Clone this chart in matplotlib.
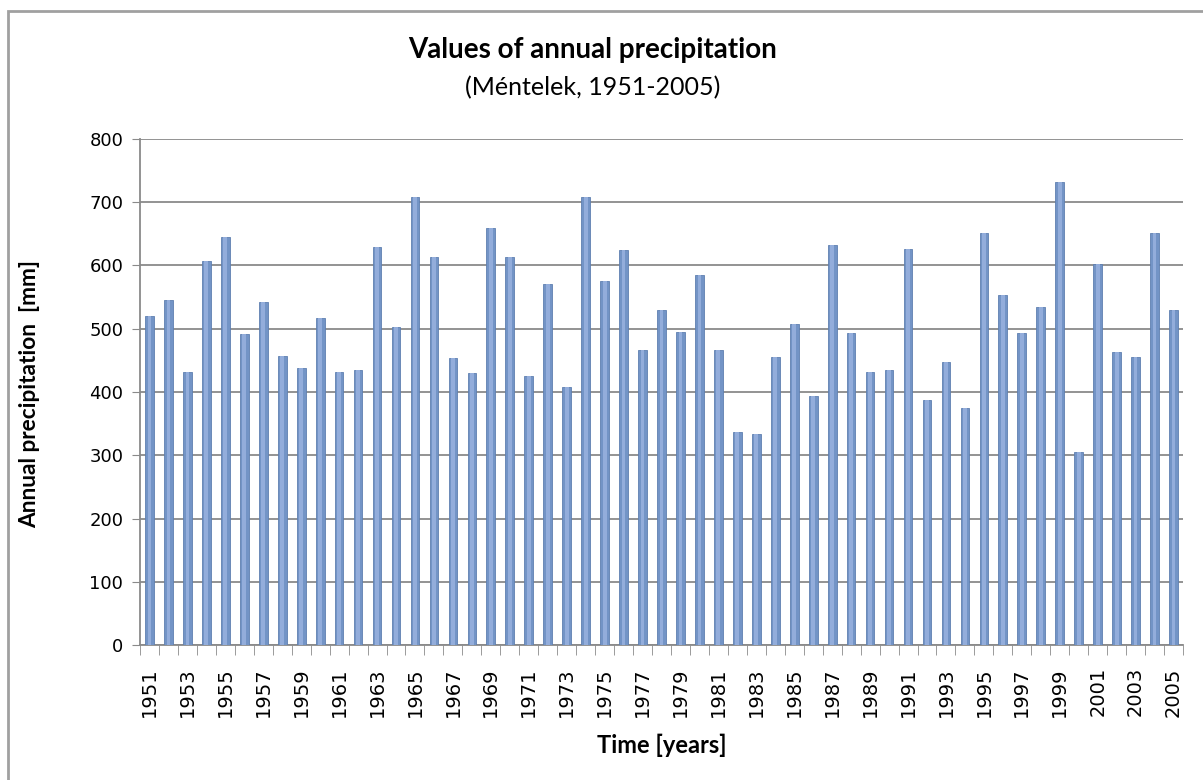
import matplotlib
matplotlib.use("Agg")
import matplotlib.pyplot as plt
from matplotlib.patches import Rectangle

years = list(range(1951, 2006))
precip = [520, 545, 432, 607, 645, 492, 542, 457, 438, 517,
          432, 435, 630, 502, 708, 614, 454, 430, 660, 614,
          426, 571, 408, 708, 576, 624, 467, 530, 495, 585,
          467, 336, 333, 455, 508, 394, 632, 494, 432, 435,
          626, 388, 448, 374, 651, 554, 494, 535, 732, 305,
          602, 464, 455, 651, 530]
yticks = [0, 100, 200, 300, 400, 500, 600, 700, 800]
title = "Values of annual precipitation"
subtitle = "(Méntelek, 1951-2005)"
ylabel = "Annual precipitation  [mm]"
xlabel = "Time [years]"

fig = plt.figure(figsize=(12.03, 7.80), dpi=100)
fig.patch.set_facecolor("white")

# chart frame
fig.patches.append(Rectangle((8/1203, -0.01), 1.2, 1 - 11/780 + 0.01,
                             transform=fig.transFigure, fill=False,
                             edgecolor="#a0a0a0", linewidth=2))

ax = fig.add_axes([140/1203, 1 - 645/780, (1183-140)/1203, (645-139)/780])
x = list(range(len(years)))
ax.bar(x, precip, width=0.46, color="#7394c6", edgecolor="#5f7fb0",
       linewidth=0.6, zorder=3)
ax.bar(x, precip, width=0.2, color="#93addb", linewidth=0, zorder=4)

ax.set_xlim(-0.5, len(years) - 0.5)
ax.set_ylim(0, 800)
ax.set_yticks(yticks)
ax.set_yticklabels([str(v) for v in yticks], fontsize=13, family="DejaVu Sans")
ax.yaxis.grid(True, color="#8a8a8a", linewidth=1.3, zorder=0)
ax.tick_params(axis="y", length=6, color="#8a8a8a", pad=6)

ax.set_xticks(x[::2])
ax.set_xticklabels([str(y) for y in years[::2]], rotation=90, fontsize=14,
                   family="DejaVu Sans")
ax.set_xticks([i - 0.5 for i in range(len(years) + 1)], minor=True)
ax.tick_params(axis="x", which="major", length=0, pad=16)
ax.tick_params(axis="x", which="minor", length=7, color="#8a8a8a")

for s in ["top", "right"]:
    ax.spines[s].set_visible(False)
for s in ["left", "bottom"]:
    ax.spines[s].set_color("#8a8a8a")
    ax.spines[s].set_linewidth(1.3)

fig.text(593/1203, 1 - 50/780, title, ha="center", va="center",
         fontsize=20, fontweight="bold", family="Lato")
fig.text(593/1203, 1 - 88/780, subtitle, ha="center", va="center",
         fontsize=18, family="Lato")
fig.text(30/1203, 1 - 394/780, ylabel, ha="center", va="center",
         rotation=90, fontsize=16.3, fontweight="bold", family="Lato")
fig.text(662/1203, 1 - 745/780, xlabel, ha="center", va="center",
         fontsize=17, fontweight="bold", family="Lato")

fig.savefig("out.png", dpi=100)
